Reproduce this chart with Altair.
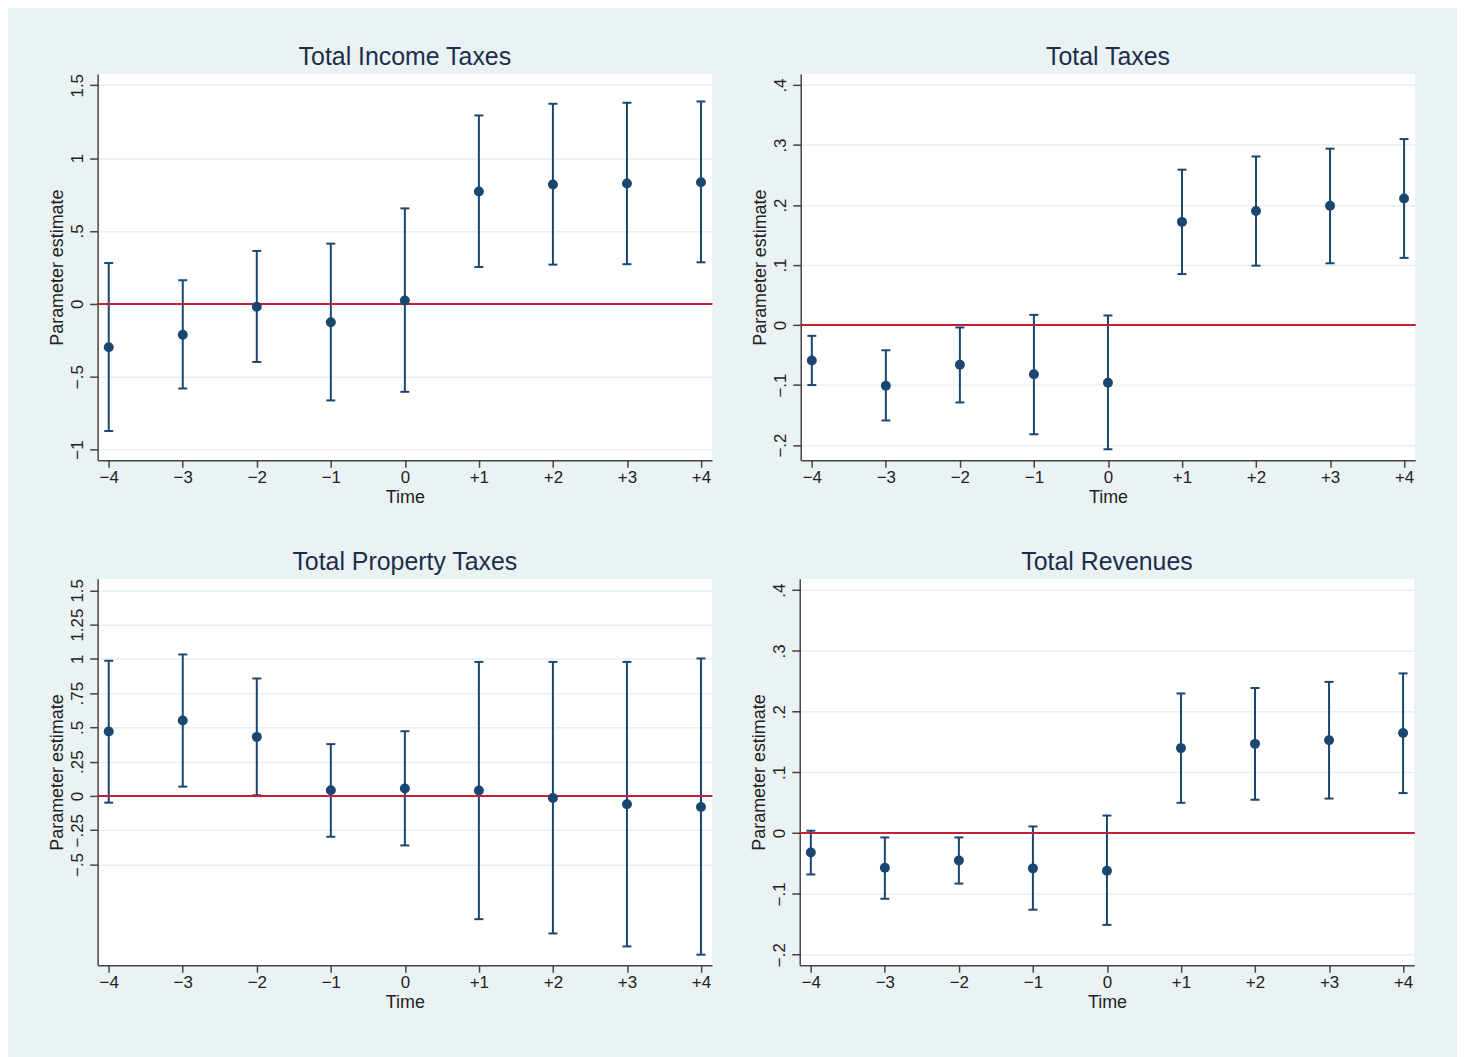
import altair as alt
import pandas as pd

# ---------------- data ----------------
TIME = [-4, -3, -2, -1, 0, 1, 2, 3, 4]
TIME_LABELS = ["−4", "−3", "−2", "−1", "0", "+1", "+2", "+3", "+4"]

TITLES = ["Total Income Taxes", "Total Taxes", "Total Property Taxes", "Total Revenues"]

INC_EST = [-0.298, -0.212, -0.020, -0.127, 0.023, 0.771, 0.819, 0.826, 0.835]
INC_LO = [-0.873, -0.581, -0.399, -0.663, -0.604, 0.253, 0.269, 0.272, 0.285]
INC_HI = [0.280, 0.162, 0.363, 0.413, 0.655, 1.293, 1.373, 1.380, 1.389]
INC_TICKS = [-1, -0.5, 0, 0.5, 1, 1.5]
INC_TICK_LABELS = ["−1", "−.5", "0", ".5", "1", "1.5"]

TOT_EST = [-0.059, -0.101, -0.066, -0.082, -0.096, 0.172, 0.190, 0.199, 0.211]
TOT_LO = [-0.100, -0.159, -0.129, -0.182, -0.207, 0.085, 0.099, 0.103, 0.112]
TOT_HI = [-0.018, -0.042, -0.004, 0.017, 0.016, 0.259, 0.281, 0.294, 0.310]
TOT_TICKS = [-0.2, -0.1, 0, 0.1, 0.2, 0.3, 0.4]
TOT_TICK_LABELS = ["−.2", "−.1", "0", ".1", ".2", ".3", ".4"]

PROP_EST = [0.470, 0.550, 0.431, 0.041, 0.055, 0.039, -0.015, -0.061, -0.080]
PROP_LO = [-0.049, 0.068, 0.005, -0.298, -0.361, -0.899, -1.003, -1.098, -1.158]
PROP_HI = [0.986, 1.032, 0.857, 0.378, 0.472, 0.978, 0.978, 0.978, 1.003]
PROP_TICKS = [-0.5, -0.25, 0, 0.25, 0.5, 0.75, 1, 1.25, 1.5]
PROP_TICK_LABELS = ["−.5", "−.25", "0", ".25", ".5", ".75", "1", "1.25", "1.5"]

REV_EST = [-0.032, -0.057, -0.045, -0.058, -0.062, 0.140, 0.147, 0.153, 0.165]
REV_LO = [-0.068, -0.108, -0.083, -0.126, -0.151, 0.050, 0.055, 0.057, 0.066]
REV_HI = [0.004, -0.007, -0.007, 0.011, 0.029, 0.230, 0.239, 0.249, 0.263]
REV_TICKS = [-0.2, -0.1, 0, 0.1, 0.2, 0.3, 0.4]
REV_TICK_LABELS = ["−.2", "−.1", "0", ".1", ".2", ".3", ".4"]

Y_DOMAINS = [[-1.074, 1.578], [-0.2254, 0.4186], [-1.235, 1.584], [-0.2174, 0.4187]]

# ---------------- style ----------------
NAVY = "#1a476f"
RED = "#c41f38"
FONT = "Liberation Sans"
BG = "#eaf2f3"


def label_expr(vals, labels):
    expr = "''"
    for v, l in reversed(list(zip(vals, labels))):
        expr = f"abs(datum.value - ({v})) < 1e-6 ? '{l}' : {expr}"
    return expr


def panel(title, est, lo, hi, yticks, ylabels, ydom):
    df = pd.DataFrame({"t": TIME, "est": est, "lo": lo, "hi": hi,
                       "zero": [0] * len(TIME)})
    xs = alt.Scale(domain=[-4.15, 4.15], nice=False, zero=False)
    ys = alt.Scale(domain=ydom, nice=False, zero=False)
    xax = alt.Axis(values=TIME, labelExpr=label_expr(TIME, TIME_LABELS),
                   grid=False, title="Time", tickSize=7, labelPadding=2,
                   titlePadding=3)
    yax = alt.Axis(values=yticks, labelExpr=label_expr(yticks, ylabels),
                   grid=True, title="Parameter estimate", tickSize=8,
                   labelPadding=7, labelAngle=270, labelAlign="center",
                   labelBaseline="alphabetic", titlePadding=2)

    def X():
        return alt.X("t:Q", scale=xs, axis=xax, title="Time")

    def Y(f):
        return alt.Y(f"{f}:Q", scale=ys, axis=yax, title="Parameter estimate")

    base = alt.Chart(df)
    bars = base.mark_rule(color=NAVY, strokeWidth=2).encode(
        x=X(), y=Y("lo"), y2="hi:Q")
    cap_hi = base.mark_tick(color=NAVY, orient="horizontal", size=9,
                            thickness=2, opacity=1).encode(x=X(), y=Y("hi"))
    cap_lo = base.mark_tick(color=NAVY, orient="horizontal", size=9,
                            thickness=2, opacity=1).encode(x=X(), y=Y("lo"))
    zero = base.mark_rule(color=RED, strokeWidth=1.6).encode(y=Y("zero"))
    pts = base.mark_circle(color=NAVY, size=100, opacity=1).encode(
        x=X(), y=Y("est"))
    return alt.layer(bars, cap_hi, cap_lo, zero, pts).properties(
        width=617, height=388,
        title=alt.TitleParams(title, fontSize=25, font=FONT, color="#1c2e4a",
                              fontWeight="normal", anchor="middle",
                              baseline="bottom", offset=-21))


p1 = panel(TITLES[0], INC_EST, INC_LO, INC_HI, INC_TICKS, INC_TICK_LABELS, Y_DOMAINS[0])
p2 = panel(TITLES[1], TOT_EST, TOT_LO, TOT_HI, TOT_TICKS, TOT_TICK_LABELS, Y_DOMAINS[1])
p3 = panel(TITLES[2], PROP_EST, PROP_LO, PROP_HI, PROP_TICKS, PROP_TICK_LABELS, Y_DOMAINS[2])
p4 = panel(TITLES[3], REV_EST, REV_LO, REV_HI, REV_TICKS, REV_TICK_LABELS, Y_DOMAINS[3])

chart = alt.vconcat(
    alt.hconcat(p1, p2, spacing=38),
    alt.hconcat(p3, p4, spacing=38),
    spacing=43,
).properties(
    background=BG,
    padding={"left": 40, "top": 34, "right": 41, "bottom": 50},
).configure_view(
    stroke=None, fill="white"
).configure_axis(
    domainColor="#444444", domainWidth=1.5, tickColor="#444444", tickWidth=1.5,
    labelColor="#222222", labelFont=FONT, labelFontSize=17,
    titleColor="#222222", titleFont=FONT, titleFontSize=18,
    titleFontWeight="normal", gridColor="#e6eff2", gridWidth=1.5,
)

chart.save("out.html", embed_options={"renderer": "svg", "actions": False})
